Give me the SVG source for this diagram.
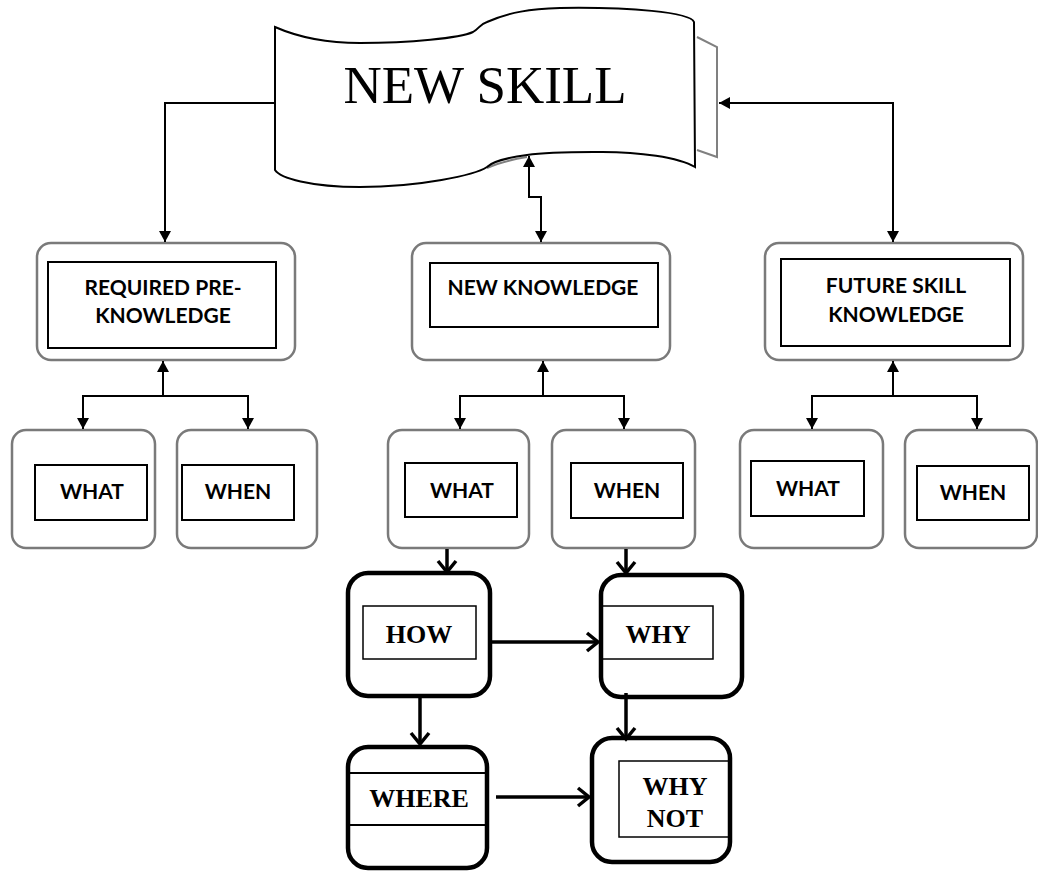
<svg xmlns="http://www.w3.org/2000/svg" width="1038" height="871" viewBox="0 0 1038 871">
<style>
.outer{fill:#fff;stroke:#7a7a7a;stroke-width:2.5}
.inner{fill:#fff;stroke:#000;stroke-width:2}
.lbl{font-family:Lato,"Liberation Sans",sans-serif;font-weight:700;font-size:21px;fill:#000;text-anchor:middle}
.tb{font-family:"Liberation Serif",serif;font-weight:700;font-size:26px;fill:#000;text-anchor:middle}
.thick{fill:#fff;stroke:#000;stroke-width:4.5}
.thin{fill:none;stroke:#000;stroke-width:1.5}
.c1{fill:none;stroke:#000;stroke-width:2}
.c2{fill:none;stroke:#000;stroke-width:3.5}
</style>
<defs>
<marker id="fa" markerUnits="userSpaceOnUse" markerWidth="12" markerHeight="12" refX="11" refY="6" orient="auto-start-reverse" overflow="visible">
<path d="M0,0 L11,6 L0,12 z" fill="#000"/>
</marker>
<marker id="oa" markerUnits="userSpaceOnUse" markerWidth="14" markerHeight="18" refX="11" refY="9" orient="auto" overflow="visible">
<path d="M0,0 L11,9 L0,18" fill="none" stroke="#000" stroke-width="3.5"/>
</marker>
</defs>
<rect width="1038" height="871" fill="#fff"/>

<g id="new-skill">
<path d="M697,37 L717,47 L717,157 L697,150" fill="none" stroke="#808080" stroke-width="2"/>
<path d="M487,168 C500,162 515,159 527,157" fill="none" stroke="#808080" stroke-width="2"/>
<path d="M275,27 C300,38 330,43 360,43 C410,43 460,38 473,32 C480,28 480,24 487,22 C510,12 530,9 560,8 C630,7 690,12 694,22 L695,167 C680,158 640,151 593,152 C560,152 540,153 527,155 C505,158 492,162 487,167 C475,175 420,187 360,187 C310,187 280,178 275,170 Z" fill="#fff" stroke="#000" stroke-width="2"/>
<text x="485" y="103" font-family="'Liberation Serif',serif" font-size="53" text-anchor="middle">NEW SKILL</text>
</g>

<g id="required-pre-knowledge">
<rect class="outer" x="37" y="243" width="258" height="117" rx="14"/>
<rect class="inner" x="48" y="262" width="228" height="86"/>
<text class="lbl" x="163" y="295">REQUIRED PRE-</text>
<text class="lbl" x="163" y="323">KNOWLEDGE</text>
</g>
<g id="new-knowledge">
<rect class="outer" x="412" y="243" width="258" height="117" rx="14"/>
<rect class="inner" x="430" y="263" width="228" height="64"/>
<text class="lbl" x="543" y="295">NEW KNOWLEDGE</text>
</g>
<g id="future-skill-knowledge">
<rect class="outer" x="765" y="243" width="258" height="117" rx="14"/>
<rect class="inner" x="781" y="259" width="229" height="87"/>
<text class="lbl" x="896" y="293">FUTURE SKILL</text>
<text class="lbl" x="896" y="322">KNOWLEDGE</text>
</g>

<g id="what-1">
<rect class="outer" x="12" y="430" width="143" height="118" rx="14"/>
<rect class="inner" x="35" y="465" width="112" height="55"/>
<text class="lbl" x="92" y="499">WHAT</text>
</g>
<g id="when-1">
<rect class="outer" x="177" y="430" width="140" height="118" rx="14"/>
<rect class="inner" x="182" y="465" width="112" height="55"/>
<text class="lbl" x="238" y="499">WHEN</text>
</g>
<g id="what-2">
<rect class="outer" x="388" y="430" width="141" height="118" rx="14"/>
<rect class="inner" x="405" y="463" width="112" height="54"/>
<text class="lbl" x="462" y="498">WHAT</text>
</g>
<g id="when-2">
<rect class="outer" x="552" y="430" width="143" height="118" rx="14"/>
<rect class="inner" x="571" y="463" width="112" height="55"/>
<text class="lbl" x="627" y="498">WHEN</text>
</g>
<g id="what-3">
<rect class="outer" x="740" y="430" width="143" height="118" rx="14"/>
<rect class="inner" x="751" y="461" width="113" height="55"/>
<text class="lbl" x="808" y="496">WHAT</text>
</g>
<g id="when-3">
<rect class="outer" x="905" y="430" width="132" height="118" rx="14"/>
<rect class="inner" x="917" y="466" width="112" height="54"/>
<text class="lbl" x="973" y="500">WHEN</text>
</g>

<g id="how">
<rect class="thick" x="348" y="573" width="142" height="123" rx="20"/>
<rect class="thin" x="363" y="606" width="113" height="53" fill="#fff"/>
<text class="tb" x="419" y="643">HOW</text>
</g>
<g id="why">
<rect class="thick" x="601" y="575" width="141" height="122" rx="20"/>
<rect class="thin" x="602" y="606" width="111" height="53"/>
<text class="tb" x="658" y="643">WHY</text>
</g>
<g id="where">
<rect class="thick" x="348" y="747" width="139" height="121" rx="20"/>
<line x1="348" y1="773" x2="487" y2="773" stroke="#000" stroke-width="2"/>
<line x1="348" y1="825" x2="487" y2="825" stroke="#000" stroke-width="2"/>
<text class="tb" x="419" y="807" font-size="24">WHERE</text>
</g>
<g id="why-not">
<rect class="thick" x="592" y="738" width="138" height="124" rx="20"/>
<rect class="thin" x="619" y="761" width="112" height="76" fill="#fff"/>
<text class="tb" x="675" y="795">WHY</text>
<text class="tb" x="675" y="827">NOT</text>
</g>

<g id="connectors">
<path class="c1" d="M275,103 H165 V242" marker-end="url(#fa)"/>
<path class="c1" d="M529,156 V197 H541 V242" marker-start="url(#fa)" marker-end="url(#fa)"/>
<path class="c1" d="M893,242 V103 H719" marker-start="url(#fa)" marker-end="url(#fa)"/>
<path class="c1" d="M163,396 V361" marker-end="url(#fa)"/>
<path class="c1" d="M83,429 V396 H248 V429" marker-start="url(#fa)" marker-end="url(#fa)"/>
<path class="c1" d="M543,396 V361" marker-end="url(#fa)"/>
<path class="c1" d="M460,429 V396 H624 V429" marker-start="url(#fa)" marker-end="url(#fa)"/>
<path class="c1" d="M893,396 V361" marker-end="url(#fa)"/>
<path class="c1" d="M812,429 V396 H977 V429" marker-start="url(#fa)" marker-end="url(#fa)"/>
<path class="c2" d="M447,549 V572" marker-end="url(#oa)"/>
<path class="c2" d="M626,549 V573" marker-end="url(#oa)"/>
<path class="c2" d="M492,642 H598" marker-end="url(#oa)"/>
<path class="c2" d="M420,698 V744" marker-end="url(#oa)"/>
<path class="c2" d="M626,693 V739" marker-end="url(#oa)"/>
<path class="c2" d="M496,797 H589" marker-end="url(#oa)"/>
</g>
</svg>
